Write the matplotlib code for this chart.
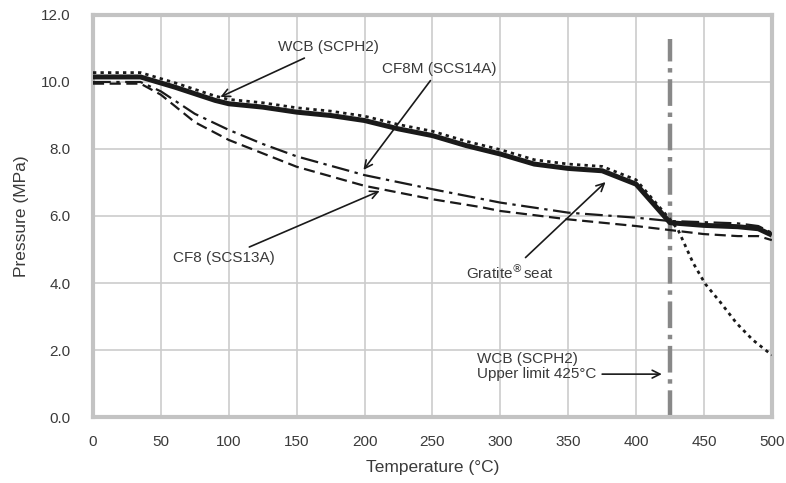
import numpy as np
import matplotlib.pyplot as plt

plt.rcParams['font.family'] = ['Liberation Sans', 'DejaVu Sans']

# WCB (SCPH2) - thick solid
t_wcb = [0, 35, 60, 90, 100, 125, 150, 175, 200, 225, 250, 275, 300, 325, 350, 375, 400, 425, 450, 475, 490, 500]
p_wcb = [10.15, 10.15, 9.85, 9.45, 9.35, 9.25, 9.1, 9.0, 8.85, 8.6, 8.4, 8.1, 7.85, 7.55, 7.42, 7.35, 6.95, 5.8, 5.72, 5.68, 5.62, 5.43]

# Gratite seat - dotted
t_gr = [0, 35, 60, 90, 100, 125, 150, 175, 200, 225, 250, 275, 300, 325, 350, 375, 400, 425, 431, 442, 451, 462, 474, 486, 500]
p_gr = [10.28, 10.28, 9.98, 9.58, 9.48, 9.38, 9.23, 9.13, 8.98, 8.73, 8.53, 8.23, 7.98, 7.68, 7.55, 7.48, 7.08, 5.9, 5.58, 4.6, 3.97, 3.43, 2.8, 2.3, 1.85]

# CF8M (SCS14A) - dash-dot
t_cf8m = [0, 35, 50, 75, 100, 125, 150, 200, 250, 300, 350, 400, 425, 475, 490, 500]
p_cf8m = [10.0, 10.0, 9.72, 9.05, 8.57, 8.15, 7.78, 7.22, 6.8, 6.4, 6.1, 5.95, 5.85, 5.78, 5.7, 5.5]

# CF8 (SCS13A) - dashed
t_cf8 = [0, 35, 50, 75, 100, 150, 200, 250, 285, 300, 350, 400, 425, 450, 475, 490, 500]
p_cf8 = [9.95, 9.95, 9.62, 8.8, 8.27, 7.47, 6.9, 6.5, 6.27, 6.15, 5.9, 5.7, 5.58, 5.46, 5.4, 5.4, 5.28]

x_ticks = [0, 50, 100, 150, 200, 250, 300, 350, 400, 450, 500]
y_ticks = [0, 2, 4, 6, 8, 10, 12]
upper_limit = 425

txt = '#3a3a3a'
fig = plt.figure(figsize=(7.86, 4.83), dpi=100)
ax = fig.add_axes([0.1183, 0.1366, 0.8637, 0.8324])

ax.plot(t_cf8, p_cf8, color='#1a1a1a', lw=1.6, ls=(0, (5, 2.5)), zorder=3)
ax.plot(t_cf8m, p_cf8m, color='#1a1a1a', lw=1.6, ls=(0, (8, 2.5, 1.5, 2.5)), zorder=3)
ax.plot(t_wcb, p_wcb, color='#1a1a1a', lw=3.6, solid_capstyle='butt', zorder=4)
ax.plot(t_gr, p_gr, color='#1a1a1a', lw=2.0, ls=(0, (1.2, 1.5)), zorder=4)

ax.axvline(upper_limit, ymin=0, ymax=0.94, color='#888888', lw=3.2,
           ls=(0, (6, 1.5, 1, 1.5)), zorder=2)

ax.set_xlim(0, 500)
ax.set_ylim(0, 12)
ax.set_xticks(x_ticks)
ax.set_yticks(y_ticks)
ax.set_yticklabels(['%.1f' % v for v in y_ticks])
ax.grid(True, color='#cccccc', lw=1.2, zorder=0)
ax.set_axisbelow(True)
ax.tick_params(length=0, labelsize=11, labelcolor=txt)
ax.tick_params(axis='x', pad=13)
ax.tick_params(axis='y', pad=16)
for s in ax.spines.values():
    s.set_color('#c3c3c3')
    s.set_linewidth(3.0)

ax.set_xlabel('Temperature (°C)', fontsize=12.5, color=txt, labelpad=8)
ax.set_ylabel('Pressure (MPa)', fontsize=12.5, color=txt, labelpad=9)

arr = dict(arrowstyle='->', color='#1a1a1a', lw=1.2, mutation_scale=14)
ax.annotate('WCB (SCPH2)', xy=(92, 9.52), xytext=(136, 11.04), fontsize=11, color=txt,
            va='center', ha='left', arrowprops=arr)
ax.annotate('CF8M (SCS14A)', xy=(198, 7.31), xytext=(213, 10.4), fontsize=11, color=txt,
            va='center', ha='left', arrowprops=arr)
ax.annotate('CF8 (SCS13A)', xy=(213, 6.78), xytext=(134, 4.75), fontsize=11, color=txt,
            va='center', ha='right', arrowprops=arr)
ax.annotate('Gratite$^{\\circledR}$seat', xy=(379, 7.07), xytext=(275, 4.33), fontsize=11,
            color=txt, va='center', ha='left', arrowprops=arr)
ax.text(283, 1.72, 'WCB (SCPH2)', fontsize=11, color=txt, va='center', ha='left')
ax.annotate('Upper limit 425°C', xy=(421, 1.28), xytext=(283, 1.28), fontsize=11, color=txt,
            va='center', ha='left', arrowprops=arr)

fig.savefig('out.png', dpi=100)
